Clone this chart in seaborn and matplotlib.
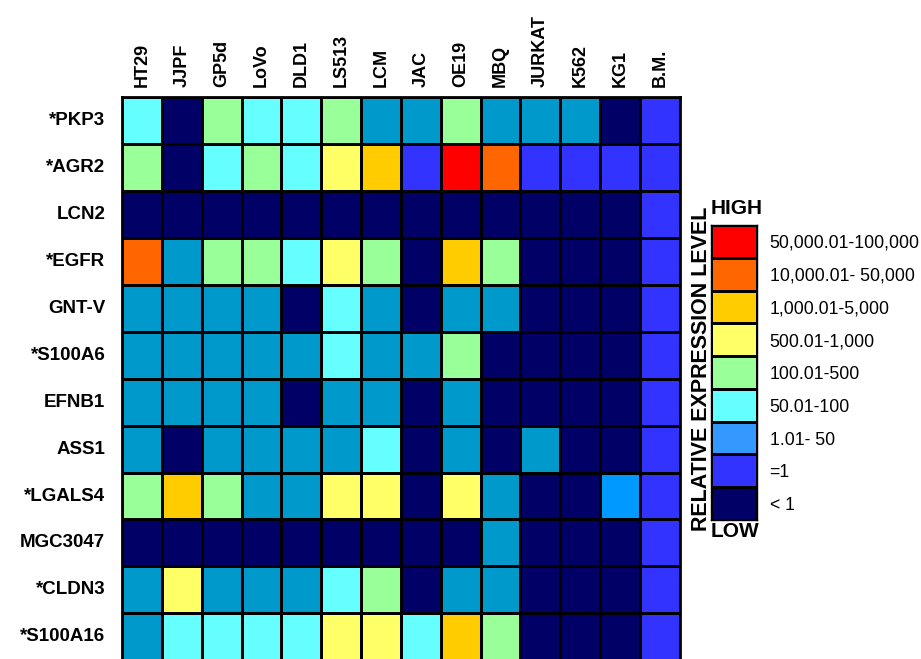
import numpy as np
import pandas as pd
import matplotlib.pyplot as plt
import seaborn as sns
from matplotlib.colors import ListedColormap

# 细胞系与基因
cell_lines = ["HT29", "JJPF", "GP5d", "LoVo", "DLD1", "LS513", "LCM", "JAC",
              "OE19", "MBQ", "JURKAT", "K562", "KG1", "B.M."]
genes = ["*PKP3", "*AGR2", "LCN2", "*EGFR", "GNT-V", "*S100A6", "EFNB1",
         "ASS1", "*LGALS4", "MGC3047", "*CLDN3", "*S100A16"]

# 表达等级: 0 <1, 1 =1, 2 1.01-50, 3 50.01-100, 4 100.01-500,
# 5 500.01-1,000, 6 1,000.01-5,000, 7 10,000.01-50,000, 8 50,000.01-100,000, 9 亮蓝
levels = [
    [3, 0, 4, 3, 3, 4, 2, 2, 4, 2, 2, 2, 0, 1],
    [4, 0, 3, 4, 3, 5, 6, 1, 8, 7, 1, 1, 1, 1],
    [0, 0, 0, 0, 0, 0, 0, 0, 0, 0, 0, 0, 0, 1],
    [7, 2, 4, 4, 3, 5, 4, 0, 6, 4, 0, 0, 0, 1],
    [2, 2, 2, 2, 0, 3, 2, 0, 2, 2, 0, 0, 0, 1],
    [2, 2, 2, 2, 2, 3, 2, 2, 4, 0, 0, 0, 0, 1],
    [2, 2, 2, 2, 0, 2, 2, 0, 2, 0, 0, 0, 0, 1],
    [2, 0, 2, 2, 2, 2, 3, 0, 2, 0, 2, 0, 0, 1],
    [4, 6, 4, 2, 2, 5, 5, 0, 5, 2, 0, 0, 9, 1],
    [0, 0, 0, 0, 0, 0, 0, 0, 0, 2, 0, 0, 0, 1],
    [2, 5, 2, 2, 2, 3, 4, 0, 2, 2, 0, 0, 0, 1],
    [2, 3, 3, 3, 3, 5, 5, 3, 6, 4, 0, 0, 0, 1],
]
cell_colors = ["#000066", "#3333FF", "#0099CC", "#66FFFF", "#99FF99",
               "#FFFF66", "#FFCC00", "#FF6600", "#FF0000", "#0099FF"]

# 图例
legend_labels = ["50,000.01-100,000", "10,000.01- 50,000", "1,000.01-5,000",
                 "500.01-1,000", "100.01-500", "50.01-100", "1.01- 50", "=1", "< 1"]
legend_colors = ["#FF0000", "#FF6600", "#FFCC00", "#FFFF66", "#99FF99",
                 "#66FFFF", "#3399FF", "#3333FF", "#000066"]

plt.rcParams['font.family'] = ['Liberation Sans', 'DejaVu Sans']
plt.rcParams['font.weight'] = 'bold'

df = pd.DataFrame(levels, index=genes, columns=cell_lines)

fig = plt.figure(figsize=(9.21, 6.59), dpi=100)
ax = fig.add_axes([0.1325, -0.002, 0.6055, 0.8548])
sns.heatmap(df, ax=ax, cmap=ListedColormap(cell_colors), vmin=-0.5, vmax=9.5,
            cbar=False, linewidths=1, linecolor='black')
ax.xaxis.tick_top()
ax.set_xlabel('')
ax.set_ylabel('')
plt.setp(ax.get_xticklabels(), rotation=90, fontsize=13, fontweight='bold')
plt.setp(ax.get_yticklabels(), rotation=0, fontsize=13.5, fontweight='bold')
ax.tick_params(axis='x', length=0, pad=7)
ax.tick_params(axis='y', length=0, pad=12)
for s in ax.spines.values():
    s.set_visible(True)
    s.set_linewidth(2)
    s.set_color('black')

# 图例色块
lax = fig.add_axes([0.772, 0.211, 0.050, 0.4476])
leg_df = pd.DataFrame({'v': np.arange(len(legend_labels))}, index=legend_labels)
sns.heatmap(leg_df, ax=lax, cmap=ListedColormap(legend_colors), cbar=False,
            linewidths=1, linecolor='black', xticklabels=False)
lax.yaxis.tick_right()
lax.set_ylabel('')
plt.setp(lax.get_yticklabels(), rotation=0, fontsize=12.7, fontweight='normal')
lax.tick_params(axis='y', length=0, pad=9)
for s in lax.spines.values():
    s.set_visible(True)
    s.set_linewidth(1)

fig.text(0.772, 0.683, 'HIGH', fontsize=15, fontweight='bold', ha='left', va='center')
fig.text(0.772, 0.193, 'LOW', fontsize=15, fontweight='bold', ha='left', va='center')
fig.text(0.762, 0.44, 'RELATIVE EXPRESSION LEVEL', fontsize=15.5, fontweight='bold',
         rotation=90, ha='center', va='center')

plt.savefig('out.png', dpi=100)
